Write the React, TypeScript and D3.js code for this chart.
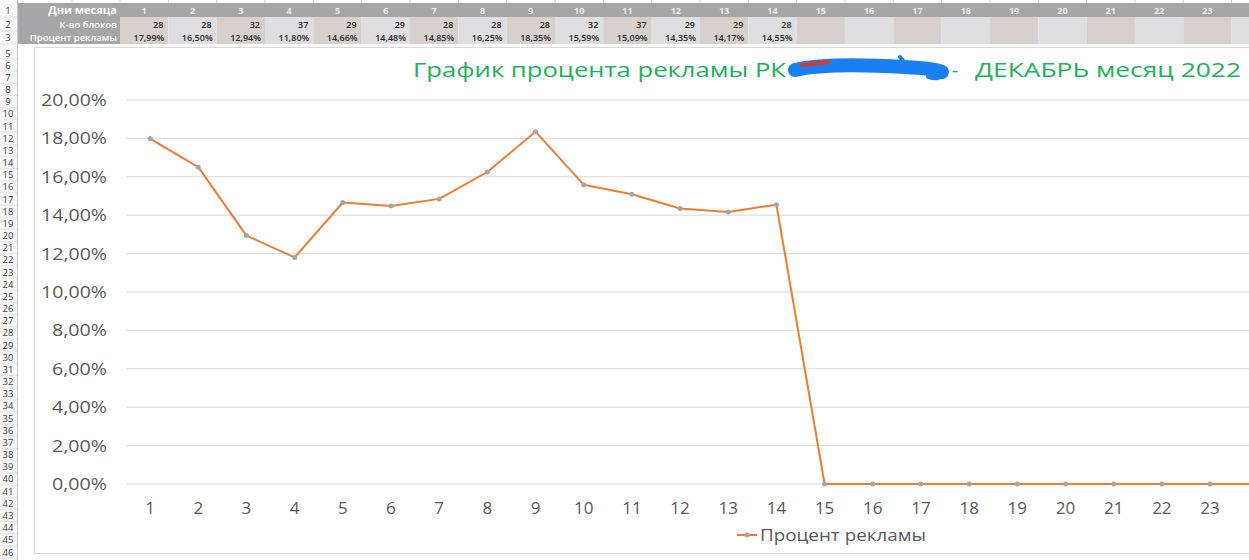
import React from 'react';
import * as d3 from 'd3';

const days = [1,2,3,4,5,6,7,8,9,10,11,12,13,14,15,16,17,18,19,20,21,22,23,24,25,26,27,28,29,30,31];
const percentValues = [17.99,16.50,12.94,11.80,14.66,14.48,14.85,16.25,18.35,15.59,15.09,14.35,14.17,14.55,0,0,0,0,0,0,0,0,0,0,0,0,0,0,0,0,0];
const tablePercent = [17.99,16.50,12.94,11.80,14.66,14.48,14.85,16.25,18.35,15.59,15.09,14.35,14.17,14.55];
const blocks = [28,28,32,37,29,29,28,28,28,32,37,29,29,28];
const yTicks = [0,2,4,6,8,10,12,14,16,18,20];
const rowLabels = ['Дни месяца','К-во блоков','Процент рекламы'];
const sheetRows = [5,6,7,8,9,10,11,12,13,14,15,16,17,18,19,20,21,22,23,24,25,26,27,28,29,30,31,32,33,34,35,36,37,38,39,40,41,42,43,44,45,46];
const seriesName = 'Процент рекламы';
const titleA = 'График процента рекламы РК';
const titleB = 'ДЕКАБРЬ месяц 2022';

const W = 1249, H = 560;
const FONT = '"Open Sans", "DejaVu Sans", sans-serif';
const fmtPct = (v: number) => d3.format('.2f')(v).replace('.', ',') + '%';

export default function App() {
  // spreadsheet columns
  const colStep = 48.33;
  const col = d3.scaleBand<number>().domain(days).range([120, 120 + colStep * days.length]).padding(0);
  const rowTop = [3, 17, 31];
  const rowH = [14, 14, 13];
  const sheetRow = d3.scaleLinear().domain([5, 46]).range([53, 552]);

  // chart scales
  const step = 48.18;
  const x = d3.scaleBand<number>().domain(days).range([126, 126 + step * days.length]).padding(0);
  const y = d3.scaleLinear().domain([0, 20]).range([484, 100]);
  const cx = (d: number) => (x(d) as number) + x.bandwidth() / 2;
  const line = d3.line<number>().x((_, i) => cx(days[i])).y(v => y(v));
  const visibleHeaderDays = days.filter(d => (col(d) as number) + col.bandwidth() / 2 + 6 < W);
  const visibleXDays = days.filter(d => cx(d) + 8 < W);

  return (
    <svg width={W} height={H} style={{ position: 'absolute', left: 0, top: 0, background: '#fff' }} fontFamily={FONT}>
      {/* top strip column separators */}
      {[18, 72, ...days.map(d => col(d) as number)].map((xx, i) => (
        <line key={'ts' + i} x1={xx} x2={xx} y1={0} y2={3} stroke="#d4d4d4" />
      ))}
      {/* row number column */}
      <rect x={0} y={0} width={17} height={H} fill="#f8f8f8" />
      <line x1={17.5} x2={17.5} y1={0} y2={H} stroke="#c8c8c8" />
      {rowTop.map((t, i) => (
        <g key={'rn' + i}>
          <line x1={0} x2={17} y1={t + rowH[i]} y2={t + rowH[i]} stroke="#e2e2e2" />
          <text x={8} y={t + rowH[i] / 2 + 3.5} fontSize={9.5} fill="#444" textAnchor="middle">{i + 1}</text>
        </g>
      ))}
      {sheetRows.map(r => (
        <g key={'sr' + r}>
          <line x1={0} x2={17} y1={sheetRow(r) + 6} y2={sheetRow(r) + 6} stroke="#e2e2e2" />
          <text x={8} y={sheetRow(r) + 3.5} fontSize={9.5} fill="#444" textAnchor="middle">{r}</text>
        </g>
      ))}

      {/* header table */}
      <rect x={18} y={3} width={W} height={14} fill="#a6a5a7" />
      <rect x={18} y={17} width={102} height={27} fill="#a6a5a7" />
      {days.map((d, i) => (
        <rect key={'c' + d} x={col(d)} y={17} width={col.bandwidth()} height={27}
          fill={i % 2 === 0 ? '#d8d0cd' : '#dedde0'} />
      ))}
      {rowLabels.map((l, i) => (
        <text key={'rl' + i} x={117} y={rowTop[i] + rowH[i] / 2 + (i === 0 ? 4 : 3.5)} textAnchor="end"
          fontSize={i === 0 ? 11 : 9.5} fontWeight={i === 0 ? 700 : 600} fill="#fff">{l}</text>
      ))}
      {visibleHeaderDays.map(d => (
        <text key={'dn' + d} x={(col(d) as number) + col.bandwidth() / 2} y={13.5} textAnchor="middle"
          fontSize={9} fontWeight={700} fill="#ececec">{d}</text>
      ))}
      {blocks.map((b, i) => (
        <text key={'bl' + i} x={(col(days[i]) as number) + col.bandwidth() - 5} y={27.5} textAnchor="end"
          fontSize={9} fontWeight={600} fill="#2a2a2a">{b}</text>
      ))}
      {tablePercent.map((p, i) => (
        <text key={'tp' + i} x={(col(days[i]) as number) + col.bandwidth() - 4} y={41} textAnchor="end"
          fontSize={9} fontWeight={600} fill="#2a2a2a">{fmtPct(p)}</text>
      ))}

      {/* chart area */}
      <rect x={34.5} y={47.5} width={W} height={506} fill="#fff" stroke="#d9d9d9" />

      {/* title */}
      <text x={413} y={77} fontSize={20} fill="#22b05a" textLength={373} lengthAdjust="spacingAndGlyphs">{titleA}</text>
      <path d="M795,70 C820,64 870,65 905,67 C925,68 938,70 942,72" stroke="#1a7ff0" strokeWidth={14} fill="none" strokeLinecap="round" />
      <path d="M802,65 L828,62" stroke="#d23a32" strokeWidth={4} strokeLinecap="round" />
      <path d="M900,57 C905,64 912,70 918,72 M928,77 C936,80 944,77 944,72" stroke="#1a7ff0" strokeWidth={4} fill="none" strokeLinecap="round" />
      <text x={952} y={77} fontSize={20} fill="#22b05a">-</text>
      <text x={975} y={77} fontSize={20} fill="#22b05a" textLength={266} lengthAdjust="spacingAndGlyphs">{titleB}</text>

      {/* gridlines and y labels */}
      {yTicks.map(t => (
        <g key={'yt' + t}>
          <line x1={126} x2={W} y1={y(t)} y2={y(t)} stroke="#d9d9d9" strokeWidth={1} />
          <text x={107} y={y(t) + 6} textAnchor="end" fontSize={16.5} fill="#595959"
            textLength={fmtPct(t).length * 11} lengthAdjust="spacingAndGlyphs">{fmtPct(t)}</text>
        </g>
      ))}

      {/* x labels */}
      {visibleXDays.map(d => (
        <text key={'xl' + d} x={cx(d)} y={514} textAnchor="middle" fontSize={17} fill="#595959">{d}</text>
      ))}

      {/* series */}
      <path d={line(percentValues) || ''} fill="none" stroke="#ed7d31" strokeWidth={2} strokeLinejoin="round" />
      {percentValues.map((v, i) => (
        <circle key={'m' + i} cx={cx(days[i])} cy={y(v)} r={2.5} fill="#a5a5a5" />
      ))}

      {/* legend */}
      <line x1={737} x2={757} y1={535} y2={535} stroke="#ed7d31" strokeWidth={2} />
      <circle cx={747} cy={535} r={2.5} fill="#a5a5a5" />
      <text x={760} y={541} fontSize={17} fill="#595959" textLength={166} lengthAdjust="spacingAndGlyphs">{seriesName}</text>
    </svg>
  );
}
